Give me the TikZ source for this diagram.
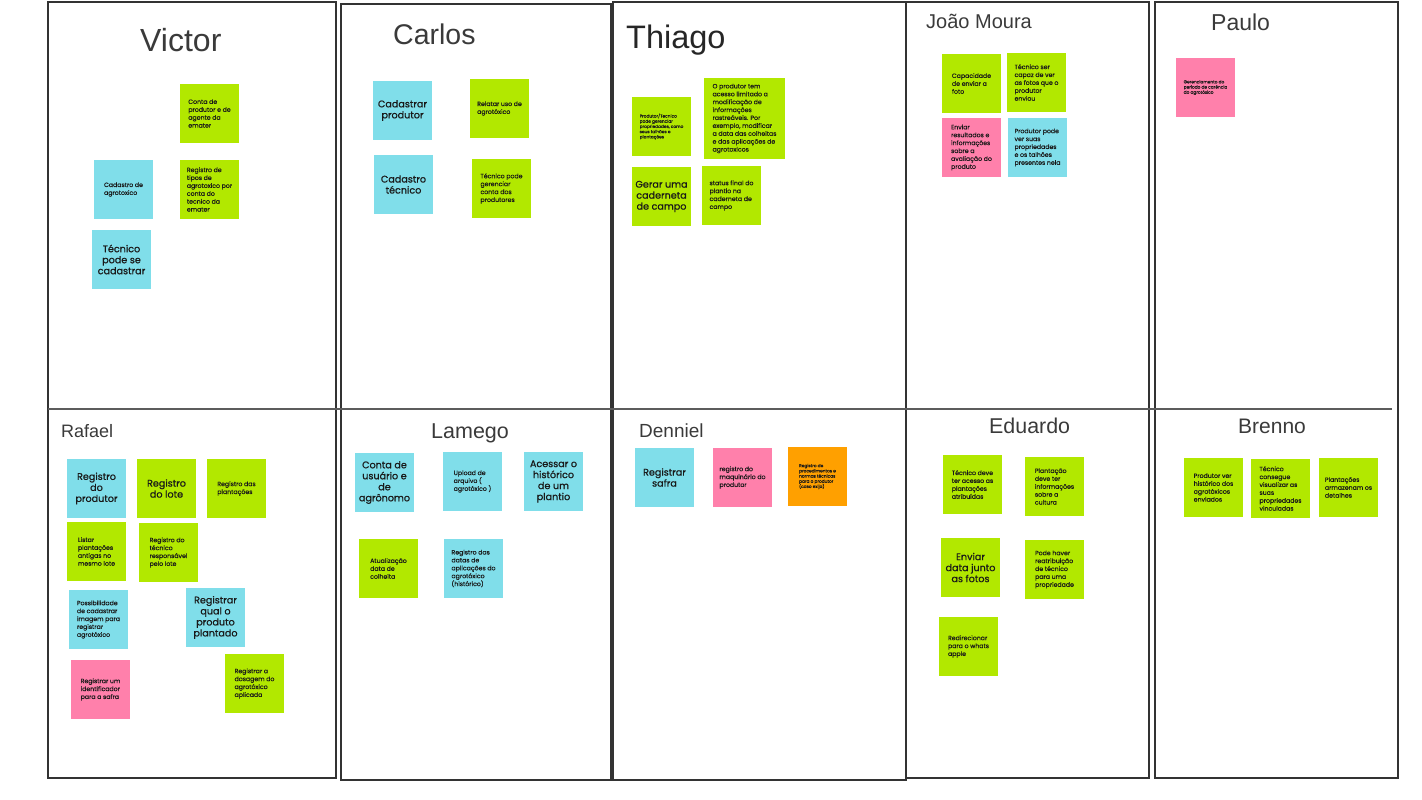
\documentclass[tikz,border=0pt]{standalone}
\usepackage{fontspec}
\setmainfont{Liberation Sans}
\newfontfamily\notefont{Poppins}[FakeBold=0.3]
\newfontfamily\bignotefont{Poppins}[FakeBold=0.8]
\definecolor{notegreen}{HTML}{B2E800}
\definecolor{notecyan}{HTML}{80DEEA}
\definecolor{notepink}{HTML}{FF80AB}
\definecolor{noteorange}{HTML}{FFA000}
\definecolor{framegray}{HTML}{333333}
\definecolor{namegray}{HTML}{3A3A3A}
\newcommand{\HEAD}[2]{{\fontsize{#1}{#1}\selectfont #2}}

\begin{document}
\begin{tikzpicture}[x=1pt,y=-1pt,
    frame/.style={draw=framegray,line width=1.8pt},
    divider/.style={draw=framegray!80,line width=1.4pt},
    personname/.style={anchor=base west,inner sep=0pt,text=namegray},
    note/.style={rectangle,minimum width=59pt,minimum height=59pt,inner sep=0pt,
      align=left,text=black!90,font=\notefont\fontsize{6.2}{7.9}\selectfont},
    bignote/.style={note,align=center,font=\bignotefont\fontsize{9.6}{11}\selectfont},
    tinynote/.style={note,font=\notefont\fontsize{4.3}{5.2}\selectfont},
    gnote/.style={fill=notegreen},
    cnote/.style={fill=notecyan},
    pnote/.style={fill=notepink},
    onote/.style={fill=noteorange}]
    \useasboundingbox (0,0) rectangle (1422,800);
    % columns and middle line
    \draw[frame] (48,2) rectangle (336,778);
    \draw[frame] (341,4) rectangle (611,780);
    \draw[frame] (613,2) rectangle (906,780);
    \draw[frame] (906,2) rectangle (1149,778);
    \draw[frame] (1155,2) rectangle (1398,778);
    \draw[divider] (48,409) -- (1392,409);
    % names
    \node (victor) at (140,52) [personname] {\HEAD{32}{Victor}};
    \node (carlos) at (393,45) [personname] {\HEAD{28.5}{Carlos}};
    \node (thiago) at (626,49) [personname,text=black!85] {\HEAD{32.5}{Thiago}};
    \node (joao) at (926,29) [personname] {\HEAD{20}{João Moura}};
    \node (paulo) at (1211,31) [personname] {\HEAD{23}{Paulo}};
    \node (rafael) at (61,437) [personname] {\HEAD{18}{Rafael}};
    \node (lamego) at (431,438) [personname] {\HEAD{21.5}{Lamego}};
    \node (denniel) at (639,437) [personname] {\HEAD{19}{Denniel}};
    \node (eduardo) at (989,433) [personname] {\HEAD{21.4}{Eduardo}};
    \node (brenno) at (1238,433) [personname] {\HEAD{21}{Brenno}};
    % Victor
    \node (victor1) at (209.5,113.5) [note,gnote] {Conta de\\produtor e de\\agente da\\emater};
    \node (victor2) at (123.5,189.5) [note,cnote] {Cadastro de\\agrotoxico};
    \node (victor3) at (209.5,189.5) [note,gnote] {Registro de\\tipos de\\agrotoxico por\\conta do\\tecnico da\\emater};
    \node (victor4) at (121.5,259.5) [bignote,cnote] {Técnico\\pode se\\cadastrar};
    % Carlos
    \node (carlos1) at (402.5,110.5) [bignote,cnote] {Cadastrar\\produtor};
    \node (carlos2) at (499.5,108.5) [note,gnote] {Relatar uso de\\agrotóxico};
    \node (carlos3) at (403.5,184.5) [bignote,cnote] {Cadastro\\técnico};
    \node (carlos4) at (501.5,188.5) [note,gnote] {Técnico pode\\gerenciar\\conta dos\\produtores};
    % Thiago
    \node (thiago1) at (661.5,126.5) [tinynote,gnote] {Produtor/Tecnico\\pode gerenciar\\propriedades, como\\seus talhões e\\plantações};
    \node (thiago2) at (744.5,118.5) [note,gnote,minimum width=81pt,minimum height=81pt] {O produtor tem\\acesso limitado a\\modificação de\\informações\\rastreáveis. Por\\exemplo, modificar\\a data das colheitas\\e das aplicações de\\agrotoxicos};
    \node (thiago3) at (661.5,196.5) [bignote,gnote] {Gerar uma\\caderneta\\de campo};
    \node (thiago4) at (731.5,195.5) [note,gnote] {status final do\\plantio na\\caderneta de\\campo};
    % Joao Moura
    \node (joao1) at (971.5,83.5) [note,gnote] {Capacidade\\de enviar a\\foto};
    \node (joao2) at (1036.5,82.5) [note,gnote] {Técnico ser\\capaz de ver\\as fotos que o\\produtor\\enviou};
    \node (joao3) at (971.5,147.5) [note,pnote] {Enviar\\resultados e\\informações\\sobre a\\avaliação do\\produto};
    \node (joao4) at (1037.5,147.5) [note,cnote] {Produtor pode\\ver suas\\propriedades\\e os talhões\\presentes nela};
    % Paulo
    \node (paulo1) at (1205.5,87.5) [tinynote,pnote] {Gerenciamento do\\período de carência\\do agrotóxico};
    % Rafael
    \node (rafael1) at (96.5,488.5) [bignote,cnote] {Registro\\do\\produtor};
    \node (rafael2) at (166.5,488.5) [bignote,gnote] {Registro\\do lote};
    \node (rafael3) at (236.5,488.5) [note,gnote] {Registro das\\plantações};
    \node (rafael4) at (96.5,551.5) [note,gnote] {Listar\\plantações\\antigas no\\mesmo lote};
    \node (rafael5) at (168.5,552.5) [note,gnote] {Registro do\\técnico\\responsável\\pelo lote};
    \node (rafael6) at (98.5,619.5) [note,cnote] {Possibilidade\\de cadastrar\\imagem para\\registrar\\agrotóxico};
    \node (rafael7) at (215.5,617.5) [bignote,cnote] {Registrar\\qual o\\produto\\plantado};
    \node (rafael8) at (100.5,689.5) [note,pnote] {Registrar um\\identificador\\para a safra};
    \node (rafael9) at (254.5,683.5) [note,gnote] {Registrar a\\dosagem do\\agrotóxico\\aplicada};
    % Lamego
    \node (lamego1) at (384.5,482.5) [bignote,cnote] {Conta de\\usuário e\\de\\agrônomo};
    \node (lamego2) at (472.5,481.5) [note,cnote] {Upload de\\arquivo (\\agrotóxico )};
    \node (lamego3) at (553.5,481.5) [bignote,cnote] {Acessar o\\histórico\\de um\\plantio};
    \node (lamego4) at (388.5,568.5) [note,gnote] {Atualização\\data de\\colheita};
    \node (lamego5) at (473.5,568.5) [note,cnote] {Registro das\\datas de\\aplicações do\\agrotóxico\\(histórico)};
    % Denniel
    \node (denniel1) at (664.5,477.5) [bignote,cnote] {Registrar\\safra};
    \node (denniel2) at (742.5,477.5) [note,pnote] {registro do\\maquinário do\\produtor};
    \node (denniel3) at (817.5,476.5) [tinynote,onote] {Registro de\\procedimentos e\\normas técnicas\\para o produtor\\(caso exija)};
    % Eduardo
    \node (eduardo1) at (972.5,484.5) [note,gnote] {Técnico deve\\ter acesso as\\plantações\\atribuídas};
    \node (eduardo2) at (1054.5,486.5) [note,gnote] {Plantação\\deve ter\\informações\\sobre a\\cultura};
    \node (eduardo3) at (970.5,567.5) [bignote,gnote] {Enviar\\data junto\\as fotos};
    \node (eduardo4) at (1054.5,569.5) [note,gnote] {Pode haver\\reatribuição\\de técnico\\para uma\\propriedade};
    \node (eduardo5) at (968.5,646.5) [note,gnote] {Redirecionar\\para o whats\\apple};
    % Brenno
    \node (brenno1) at (1213.5,487.5) [note,gnote] {Produtor ver\\histórico dos\\agrotóxicos\\enviados};
    \node (brenno2) at (1280.5,488.5) [note,gnote] {Técnico\\consegue\\visualizar as\\suas\\propriedades\\vinculadas};
    \node (brenno3) at (1348.5,487.5) [note,gnote] {Plantações\\armazenam os\\detalhes};
\end{tikzpicture}
\end{document}
